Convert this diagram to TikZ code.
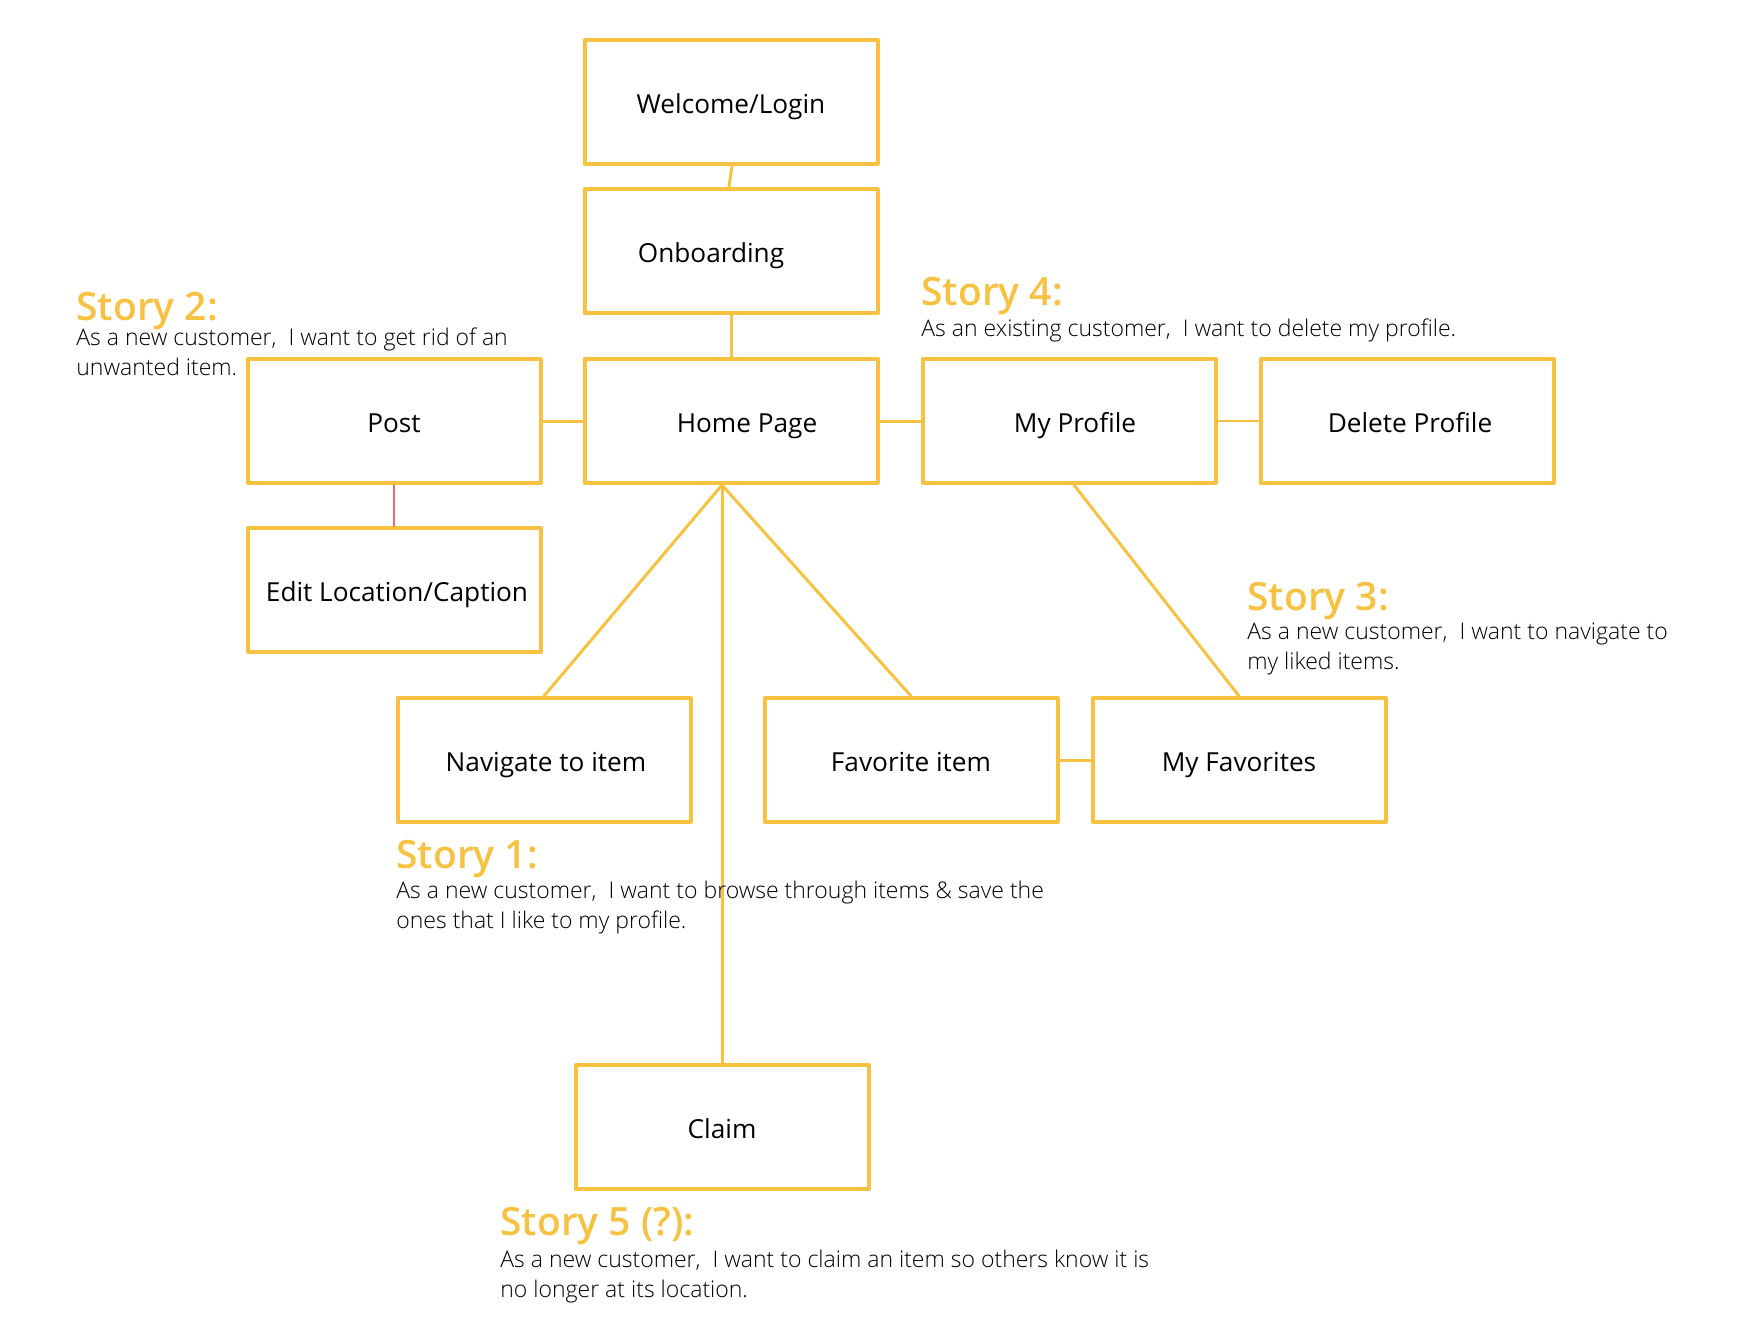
\documentclass[tikz,border=0pt]{standalone}
\usepackage{fontspec}
\setmainfont{Open Sans}
\newfontfamily\lightfont{Open Sans Light}
\IfFontExistsTF{Open Sans Semibold}
  {\newfontfamily\semifont{Open Sans Semibold}}
  {\newfontfamily\semifont{Open Sans}[UprightFont=*, UprightFeatures={}, BoldFont=*]\def\semifont{\bfseries}}
\definecolor{amarillo}{HTML}{F7C242}
\definecolor{rojo}{HTML}{EE6B6B}
\begin{document}
\begin{tikzpicture}[x=0.5pt, y=-0.5pt, line cap=round, line join=round,
    caja/.style={draw=amarillo, line width=2pt, minimum width=146.5pt, minimum height=62pt,
      inner sep=0pt, text height=11.5pt, text depth=0pt, font=\fontsize{13.1}{16}\selectfont},
    enlace/.style={draw=amarillo, line width=1.5pt},
    titulo/.style={anchor=base west, inner sep=0pt, text=amarillo,
      font=\semifont\fontsize{19.5}{22}\selectfont},
    historia/.style={anchor=base west, inner sep=0pt, align=left,
      font=\lightfont\fontsize{11.5}{15}\selectfont}]
  \useasboundingbox (0,0) rectangle (1762,1340);
  % las cajas
  \node[caja] (welcome) at (731,102) {Welcome/Login};
  \node[caja] (onboard) at (731,251) {Onboarding\hspace*{20pt}};
  \node[caja] (home) at (731,421) {\hspace*{16pt}Home Page};
  \node[caja] (post) at (394,421) {Post};
  \node[caja] (edit) at (394,590) {\hspace*{3pt}Edit Location/Caption};
  \node[caja] (profile) at (1069,421) {\hspace*{6pt}My Profile};
  \node[caja] (delete) at (1407,421) {\hspace*{3pt}Delete Profile};
  \node[caja] (navigate) at (544,760) {\hspace*{2pt}Navigate to item};
  \node[caja] (favitem) at (911,760) {Favorite item};
  \node[caja] (myfavs) at (1239,760) {My Favorites};
  \node[caja] (claim) at (722,1127) {Claim};
  % los enlaces
  \coordinate (homefoot) at ([xshift=-4.5pt]home.south);
  \draw[enlace] ([xshift=0.5pt]welcome.south) -- ([xshift=-1pt]onboard.north);
  \draw[enlace] (onboard.south) -- (home.north);
  \draw[enlace] (post.east) -- (home.west);
  \draw[enlace] (home.east) -- (profile.west);
  \draw[draw=amarillo, line width=0.6pt] (profile.east) -- (delete.west);
  \draw[draw=rojo, line width=0.7pt] (post.south) -- (edit.north);
  \draw[enlace] (homefoot) -- (navigate.north);
  \draw[enlace] (homefoot) -- (favitem.north);
  \draw[enlace] (homefoot) -- (claim.north);
  \draw[enlace] ([xshift=2.5pt]profile.south) -- (myfavs.north);
  \draw[enlace] (favitem.east) -- (myfavs.west);
  % las historias (el texto se apoya en su ultima linea)
  \node[titulo] (story2) at (76,320) {Story 2:};
  \node[historia] (story2text) at (76,375) {As a new customer,~~I want to get rid of an\\unwanted item.};
  \node[titulo] (story4) at (921,305) {Story 4:};
  \node[historia] (story4text) at (921,336) {As an existing customer,~~I want to delete my profile.};
  \node[titulo] (story3) at (1247,610) {Story 3:};
  \node[historia] (story3text) at (1247,669) {As a new customer,~~I want to navigate to\\my liked items.};
  \node[titulo] (story1) at (396,868) {Story 1:};
  \node[historia] (story1text) at (396,928) {As a new customer,~~I want to browse through items \& save the\\ones that I like to my profile.};
  \node[titulo] (story5) at (500,1235) {Story 5 (?):};
  \node[historia] (story5text) at (500,1297) {As a new customer,~~I want to claim an item so others know it is\\no longer at its location.};
\end{tikzpicture}
\end{document}
